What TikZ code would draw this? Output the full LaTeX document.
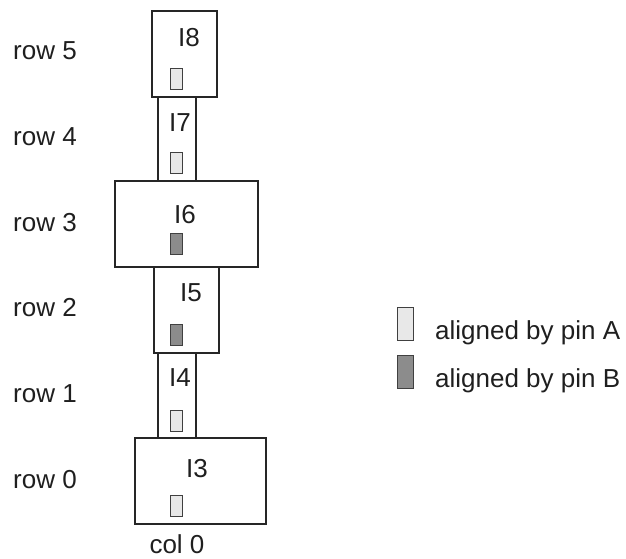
\documentclass[tikz,border=0pt]{standalone}
\usepackage{fontspec}
\setmainfont{Liberation Sans}
\begin{document}
\begin{tikzpicture}[x=1bp,y=-1bp,
  inst/.style={draw=black!85,line width=1.2bp,inner sep=0pt,outer sep=0pt},
  pin/.style={draw=black!75,line width=0.9bp,inner sep=0pt,outer sep=0pt,minimum width=12bp,minimum height=21bp},
  pinA/.style={pin,fill=black!9},
  pinB/.style={pin,fill=black!45},
  lgA/.style={draw=black!75,line width=0.9bp,inner sep=0pt,minimum width=16bp,minimum height=33bp,fill=black!9},
  lgB/.style={draw=black!75,line width=0.9bp,inner sep=0pt,minimum width=16bp,minimum height=33bp,fill=black!45},
  txt/.style={inner sep=0pt,font=\fontsize{26bp}{30bp}\selectfont,text=black!88}]
\useasboundingbox (0,0) rectangle (626,559);
% instances
\node[inst,minimum width=65bp,minimum height=86bp] (b8) at (184.5,54) {};
\node[inst,minimum width=38bp,minimum height=84bp] (b7) at (177,139) {};
\node[inst,minimum width=143bp,minimum height=86bp] (b6) at (186.5,224) {};
\node[inst,minimum width=65bp,minimum height=86bp] (b5) at (186.5,310) {};
\node[inst,minimum width=38bp,minimum height=85bp] (b4) at (177,395.5) {};
\node[inst,minimum width=131bp,minimum height=86bp] (b3) at (200.5,481) {};
% instance names
\node[txt] (n8) at (189,38) {I8};
\node[txt] (n7) at (180,122.5) {I7};
\node[txt] (n6) at (185,214.5) {I6};
\node[txt] (n5) at (191,293) {I5};
\node[txt] (n4) at (180,378) {I4};
\node[txt] (n3) at (197,469) {I3};
% pins
\node[pinA] (p8) at (176,78.5) {};
\node[pinA] (p7) at (176,163) {};
\node[pinB] (p6) at (176,243.5) {};
\node[pinB] (p5) at (176,334.5) {};
\node[pinA] (p4) at (176,420.5) {};
\node[pinA] (p3) at (176,506) {};
% row labels
\node[txt,anchor=west] (r5) at (13,51) {row 5};
\node[txt,anchor=west] (r4) at (13,137) {row 4};
\node[txt,anchor=west] (r3) at (13,222.5) {row 3};
\node[txt,anchor=west] (r2) at (13,308) {row 2};
\node[txt,anchor=west] (r1) at (13,394) {row 1};
\node[txt,anchor=west] (r0) at (13,480) {row 0};
% column label
\node[txt,anchor=base] (c0) at (177,553) {col 0};
% legend
\node[lgA] (la) at (405,323.5) {};
\node[lgB] (lb) at (405,371.5) {};
\node[txt,anchor=base west] (ta) at (435,339) {aligned by pin A};
\node[txt,anchor=base west] (tb) at (435,387) {aligned by pin B};
\end{tikzpicture}
\end{document}
